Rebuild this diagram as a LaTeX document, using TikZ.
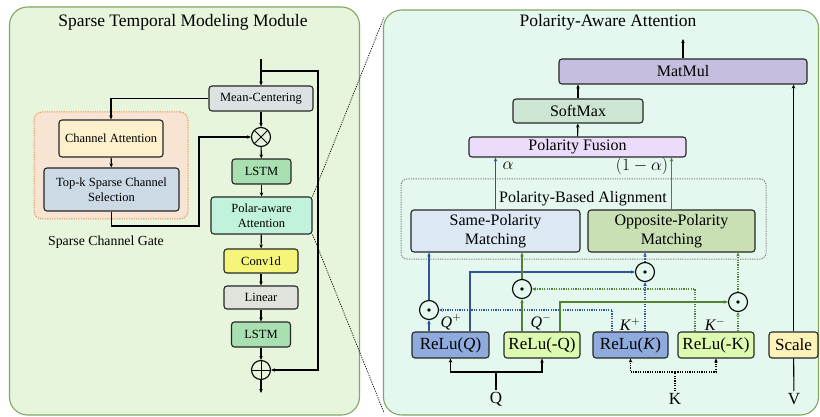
\documentclass[tikz,border=0pt]{standalone}
\usepackage{fontspec}
\setmainfont{Liberation Serif}
\usetikzlibrary{arrows.meta, positioning}
\definecolor{lpfill}{RGB}{232,245,221}
\definecolor{rpfill}{RGB}{228,248,240}
\definecolor{panelline}{RGB}{128,168,98}
\definecolor{gatefill}{RGB}{248,228,211}
\definecolor{gateline}{RGB}{236,140,82}
\definecolor{meanfill}{RGB}{220,226,226}
\definecolor{chattfill}{RGB}{253,240,205}
\definecolor{topkfill}{RGB}{204,218,230}
\definecolor{lstmfill}{RGB}{168,224,178}
\definecolor{polarfill}{RGB}{192,242,220}
\definecolor{convfill}{RGB}{245,245,122}
\definecolor{linfill}{RGB}{223,227,219}
\definecolor{matfill}{RGB}{198,190,222}
\definecolor{softfill}{RGB}{205,230,211}
\definecolor{fusefill}{RGB}{234,220,250}
\definecolor{samefill}{RGB}{221,232,245}
\definecolor{oppfill}{RGB}{200,224,180}
\definecolor{posfill}{RGB}{143,170,220}
\definecolor{negfill}{RGB}{221,251,176}
\definecolor{scalefill}{RGB}{253,243,184}
\definecolor{posline}{RGB}{47,85,151}
\definecolor{negline}{RGB}{84,130,53}

\begin{document}
\begin{tikzpicture}[x=1pt, y=-1pt,
    panel/.style={rectangle, draw=panelline, line width=1.1pt, rounded corners=18pt, inner sep=0pt},
    ptitle/.style={font=\fontsize{17.5}{20}\selectfont},
    box/.style={rectangle, draw=black!85, line width=1.1pt, rounded corners=3pt,
                inner sep=0pt, align=center, font=\fontsize{12.5}{15.5}\selectfont},
    bigbox/.style={box, font=\fontsize{16}{19}\selectfont},
    relu/.style={box, font=\fontsize{17}{19}\selectfont, minimum height=26},
    arr/.style={-{Stealth[length=4pt,width=3.5pt]}, line width=1.1pt},
    parr/.style={arr, posline},
    narr/.style={arr, negline},
    dotline/.style={dash pattern=on 1.2pt off 1.2pt},
    op/.style={circle, draw, line width=1.1pt, minimum size=19, inner sep=0pt},
    otimes/.style={op, path picture={\draw[line width=1pt]
        (path picture bounding box.north west) -- (path picture bounding box.south east)
        (path picture bounding box.north east) -- (path picture bounding box.south west);}},
    oplus/.style={op, path picture={\draw[line width=1pt]
        (path picture bounding box.north) -- (path picture bounding box.south)
        (path picture bounding box.east) -- (path picture bounding box.west);}},
    odot/.style={op, path picture={\fill (path picture bounding box.center) circle (1.8pt);}},
    lbl/.style={font=\fontsize{16}{18}\selectfont},
    inlbl/.style={font=\fontsize{17}{19}\selectfont, inner sep=2pt}
]
\useasboundingbox (0,0) rectangle (820,417);

% panels
\node[panel, fill=lpfill, minimum width=350, minimum height=408] (lp) at (184.5,211) {};
\node[panel, fill=rpfill, minimum width=435, minimum height=405] (rp) at (601,212.5) {};
\node[ptitle] (lptitle) at (183,22) {Sparse Temporal Modeling Module};
\node[ptitle] (rptitle) at (608,22) {Polarity-Aware Attention};

% left: sparse temporal modeling
\node[rectangle, draw=gateline, fill=gatefill, dotline, line width=1pt, rounded corners=8pt,
      minimum width=154, minimum height=107] (gate) at (111,165.5) {};
\node[font=\fontsize{13.8}{16}\selectfont] (gatelbl) at (106,242) {Sparse Channel Gate};

\node[box, fill=meanfill, minimum width=104, minimum height=25] (meanc) at (261,98.5) {Mean-Centering};
\node[otimes] (times) at (261,137) {};
\node[box, fill=lstmfill, minimum width=59, minimum height=25] (lstma) at (261.5,171.5) {LSTM};
\node[box, fill=polarfill, minimum width=101, minimum height=37] (polar) at (261.5,215.5) {Polar-aware\\Attention};
\node[box, fill=convfill, minimum width=74, minimum height=24] (conv) at (261,261) {Conv1d};
\node[box, fill=linfill, minimum width=74, minimum height=23] (lin) at (261,297.5) {Linear};
\node[box, fill=lstmfill, minimum width=59, minimum height=25] (lstmb) at (261,334.5) {LSTM};
\node[oplus] (plus) at (261,370) {};
\node[box, fill=chattfill, minimum width=104, minimum height=37] (chatt) at (111,138.5) {Channel Attention};
\node[box, fill=topkfill, minimum width=135, minimum height=43] (topk) at (111.5,189.5) {Top-k Sparse Channel\\Selection};

\coordinate (in) at (261,59);
\coordinate (split) at (261,71);
\coordinate (gateout) at (199,226);
\coordinate (out) at (261,393);

\draw[arr] (in) -- (meanc);
\draw[arr] (split) -- ++(57,0) |- (plus.east);
\draw[arr] (meanc.west) -| (chatt.north);
\draw[arr] (chatt) -- (topk);
\draw[arr] (topk.south) |- (gateout) |- (times.west);
\draw[arr] (meanc) -- (times);
\draw[arr] (times) -- (lstma);
\draw[arr] (lstma) -- (polar);
\draw[arr] (polar) -- (conv);
\draw[arr] (conv) -- (lin);
\draw[arr] (lin) -- (lstmb);
\draw[arr] (lstmb) -- (plus);
\draw[arr] (plus) -- (out);

% zoom lines
\draw[dotline, line width=0.7pt] (polar.north east) -- ([xshift=1pt,yshift=-8pt]rp.north west);
\draw[dotline, line width=0.7pt] (polar.south east) -- ([xshift=1pt,yshift=3pt]rp.south west);

% right: polarity-aware attention
\node[rectangle, draw=black!50, dotline, line width=1pt, rounded corners=6pt,
      minimum width=365, minimum height=80] (align) at (583.5,219) {};
\node[lbl] (alignlbl) at (583,199) {Polarity-Based Alignment};

\node[bigbox, fill=matfill, minimum width=248, minimum height=25] (matmul) at (683,71.5) {MatMul};
\node[bigbox, fill=softfill, minimum width=130, minimum height=24] (softmax) at (578,111) {SoftMax};
\node[bigbox, fill=fusefill, minimum width=217, minimum height=20] (fusion) at (577.5,147) {Polarity Fusion};
\node[bigbox, fill=samefill, minimum width=169, minimum height=42] (same) at (495.5,231) {Same-Polarity\\Matching};
\node[bigbox, fill=oppfill, minimum width=167, minimum height=42] (opp) at (671.5,231) {Opposite-Polarity\\Matching};

\node[relu, fill=posfill, minimum width=77] (reluq) at (450.5,345) {ReLu(\textit{Q})};
\node[relu, fill=negfill, minimum width=76] (relunq) at (542,345) {ReLu(-Q)};
\node[relu, fill=posfill, minimum width=75] (reluk) at (630.5,345) {ReLu(\textit{K})};
\node[relu, fill=negfill, minimum width=76] (relunk) at (716,345) {ReLu(-K)};
\node[relu, fill=scalefill, minimum width=49] (scale) at (793.5,345) {Scale};

\node[odot] (dota) at (429,310) {};
\node[odot] (dotb) at (522,289) {};
\node[odot] (dotc) at (645,272) {};
\node[odot] (dotd) at (738,302) {};

\node[lbl] (qpos) at (451,322) {\textit{Q}$^{+}$};
\node[lbl] (qneg) at (541,322) {\textit{Q}$^{-}$};
\node[lbl] (kpos) at (630,324) {\textit{K}$^{+}$};
\node[lbl] (kneg) at (715,324) {\textit{K}$^{-}$};
\node[lbl] (alpha) at (508,166) {$\alpha$};
\node[lbl] (malpha) at (642,166) {$(1-\alpha)$};

\node[inlbl] (qin) at (496,399) {Q};
\node[inlbl] (kin) at (675,399) {K};
\node[inlbl] (vin) at (794,399) {V};
\coordinate (qsplit) at (496,372);
\coordinate (ksplit) at (675,372);
\coordinate (attout) at (683,39);

\draw[arr] (matmul) -- (attout);
\draw[arr] (softmax.north) -- (softmax.north |- matmul.south);
\draw[arr] (fusion) -- (softmax);
\draw[parr] (same.north) -- (same.north |- fusion.south);
\draw[narr] (opp.north) -- (opp.north |- fusion.south);

% Q and K inputs
\draw[line width=1.1pt] (qin) -- (qsplit);
\draw[arr] (qsplit) -| (reluq.south);
\draw[arr] (qsplit) -| (relunq.south);
\draw[line width=1.1pt, dotline] (kin) -- (ksplit);
\draw[arr, dotline] (ksplit) -| (reluk.south);
\draw[arr, dotline] (ksplit) -| (relunk.south);
\draw[line width=1.1pt] (vin) -- (scale);
\draw[arr] (scale.north) -- (scale.north |- matmul.south);

% products
\draw[parr] (dota |- reluq.north) -- (dota);
\draw[parr] (dota) -- (dota |- same.south);
\draw[parr] ([xshift=19.5pt]reluq.north) |- (dotc.west);
\draw[parr, dotline] ([xshift=-18.5pt]reluk.north) |- (dota.east);
\draw[parr, dotline] (dotc |- reluk.north) -- (dotc);
\draw[parr, dotline] (dotc) -- (dotc |- opp.south);
\draw[narr] (dotb |- relunq.north) -- (dotb);
\draw[narr] (dotb) -- (dotb |- same.south);
\draw[narr] ([xshift=18pt]relunq.north) |- (dotd.west);
\draw[narr, dotline] ([xshift=-21pt]relunk.north) |- (dotb.east);
\draw[narr, dotline] (dotd |- relunk.north) -- (dotd);
\draw[narr, dotline] (dotd) -- (dotd |- opp.south);
\end{tikzpicture}
\end{document}
